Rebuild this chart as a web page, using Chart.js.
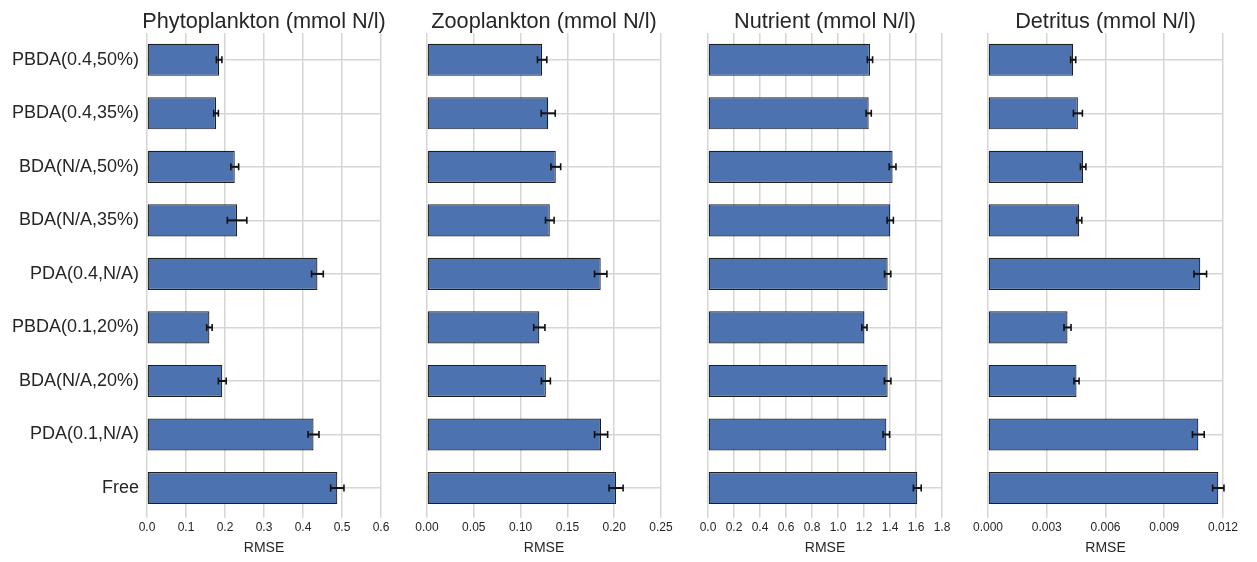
<!DOCTYPE html>
<html>
<head>
<meta charset="utf-8">
<title>RMSE by assimilation scheme</title>
<script src="https://cdn.jsdelivr.net/npm/chart.js@4.4.1/dist/chart.umd.min.js"></script>
<style>
  html, body { margin: 0; padding: 0; background: #ffffff; }
  #wrap { position: relative; width: 1257px; height: 562px; overflow: hidden; }
  .panel { position: absolute; top: 0; height: 562px; }
</style>
</head>
<body>
<div id="wrap">
  <div class="panel" id="p0" style="left:0px;width:401px"><canvas id="c0"></canvas></div>
  <div class="panel" id="p1" style="left:397px;width:285px"><canvas id="c1"></canvas></div>
  <div class="panel" id="p2" style="left:678px;width:285px"><canvas id="c2"></canvas></div>
  <div class="panel" id="p3" style="left:958px;width:290px"><canvas id="c3"></canvas></div>
</div>
<script>
/* ---------------------------------------------------------------------------
   Data
   --------------------------------------------------------------------------- */
const categories = ['PBDA(0.4,50%)', 'PBDA(0.4,35%)', 'BDA(N/A,50%)', 'BDA(N/A,35%)',
                    'PDA(0.4,N/A)', 'PBDA(0.1,20%)', 'BDA(N/A,20%)', 'PDA(0.1,N/A)', 'Free'];

const phytoRmse = [0.185, 0.177, 0.225, 0.231, 0.437, 0.160, 0.193, 0.427, 0.488];
const phytoErr  = [0.007, 0.006, 0.010, 0.025, 0.015, 0.007, 0.010, 0.014, 0.017];

const zooRmse = [0.123, 0.1295, 0.1376, 0.1312, 0.1856, 0.120, 0.127, 0.186, 0.202];
const zooErr  = [0.005, 0.0075, 0.0052, 0.0046, 0.0066, 0.006, 0.0048, 0.007, 0.0075];

const nutRmse = [1.246, 1.236, 1.420, 1.402, 1.382, 1.203, 1.382, 1.372, 1.610];
const nutErr  = [0.020, 0.020, 0.026, 0.024, 0.024, 0.020, 0.025, 0.025, 0.030];

const detRmse = [0.00435, 0.00459, 0.00486, 0.00466, 0.01084, 0.00406, 0.00452, 0.01074, 0.01176];
const detErr  = [0.00013, 0.00023, 0.00014, 0.00013, 0.00032, 0.00018, 0.00013, 0.00030, 0.00029];

const phytoTicks = [0, 0.1, 0.2, 0.3, 0.4, 0.5, 0.6];
const zooTicks   = [0, 0.05, 0.10, 0.15, 0.20, 0.25];
const nutTicks   = [0, 0.2, 0.4, 0.6, 0.8, 1.0, 1.2, 1.4, 1.6, 1.8];
const detTicks   = [0, 0.003, 0.006, 0.009, 0.012];

const titles = ['Phytoplankton (mmol N/l)', 'Zooplankton (mmol N/l)',
                'Nutrient (mmol N/l)', 'Detritus (mmol N/l)'];

/* ---------------------------------------------------------------------------
   Style
   --------------------------------------------------------------------------- */
const FONT      = "'Liberation Sans', Arial, sans-serif";
const TEXT      = '#262626';
const GRID      = '#d6d6d6';
const BAR_FILL  = '#4c72b0';
const BAR_EDGE  = '#1f1f1f';

Chart.defaults.font.family = FONT;
Chart.defaults.color = TEXT;

/* error bars drawn from the dataset's own err array through the x scale */
const errorBars = {
  id: 'errorBars',
  afterDatasetsDraw(chart) {
    const ctx = chart.ctx;
    const xs = chart.scales.x;
    chart.data.datasets.forEach((ds, di) => {
      const meta = chart.getDatasetMeta(di);
      meta.data.forEach((bar, i) => {
        const v = ds.data[i], e = ds.err[i];
        const x0 = xs.getPixelForValue(v - e);
        const x1 = xs.getPixelForValue(v + e);
        const y = bar.y;
        ctx.save();
        ctx.strokeStyle = '#111111';
        ctx.lineWidth = 2;
        ctx.beginPath();
        ctx.moveTo(x0, y); ctx.lineTo(x1, y);
        ctx.stroke();
        ctx.lineWidth = 1.6;
        ctx.beginPath();
        ctx.moveTo(x0, y - 3.5); ctx.lineTo(x0, y + 3.5);
        ctx.moveTo(x1, y - 3.5); ctx.lineTo(x1, y + 3.5);
        ctx.stroke();
        ctx.restore();
      });
    });
  }
};

/* panel title centred over the plot area (not the whole canvas) */
const panelTitle = {
  id: 'panelTitle',
  afterDraw(chart, args, opts) {
    const ctx = chart.ctx;
    const a = chart.chartArea;
    ctx.save();
    ctx.font = `21.7px ${FONT}`;
    ctx.fillStyle = TEXT;
    ctx.textAlign = 'center';
    ctx.textBaseline = 'alphabetic';
    ctx.fillText(opts.text, (a.left + a.right) / 2, 28);
    ctx.restore();
  }
};

function makePanel(canvasId, title, values, errs, ticks, showLabels, padLeft, padRight, dec) {
  return new Chart(document.getElementById(canvasId), {
    type: 'bar',
    data: {
      labels: categories,
      datasets: [{
        data: values,
        err: errs,
        backgroundColor: BAR_FILL,
        borderColor: BAR_EDGE,
        borderWidth: 1.2,
        borderSkipped: false,
        barPercentage: 0.6,
        categoryPercentage: 1.0,
      }]
    },
    options: {
      indexAxis: 'y',
      responsive: true,
      maintainAspectRatio: false,
      animation: false,
      layout: { padding: { left: padLeft, right: padRight, top: 33, bottom: 5 } },
      plugins: {
        legend: { display: false },
        tooltip: { enabled: false },
        title: { display: false },
        panelTitle: { text: title }
      },
      scales: {
        x: {
          min: ticks[0],
          max: ticks[ticks.length - 1],
          afterBuildTicks: axis => { axis.ticks = ticks.map(v => ({ value: v })); },
          grid: { color: GRID, lineWidth: 1.5, tickLength: 3, drawTicks: true },
          border: { display: false },
          ticks: {
            color: TEXT,
            font: { size: 12 },
            padding: 3,
            maxRotation: 0,
            callback: v => Number(v).toFixed(dec)
          },
          title: {
            display: true,
            text: 'RMSE',
            color: TEXT,
            font: { size: 14 },
            padding: { top: 2, bottom: 0 }
          }
        },
        y: {
          grid: { color: GRID, lineWidth: 1.5, offset: false, drawTicks: false },
          border: { display: false },
          ticks: {
            display: showLabels,
            color: TEXT,
            font: { size: 18 },
            padding: 8
          },
          afterFit: axis => { axis.width = showLabels ? 147 : 0; }
        }
      }
    },
    plugins: [errorBars, panelTitle]
  });
}

makePanel('c0', titles[0], phytoRmse, phytoErr, phytoTicks, true, 0, 20, 1);
makePanel('c1', titles[1], zooRmse, zooErr, zooTicks, false, 30, 21, 2);
makePanel('c2', titles[2], nutRmse, nutErr, nutTicks, false, 30, 21, 1);
makePanel('c3', titles[3], detRmse, detErr, detTicks, false, 30, 25, 3);
</script>
</body>
</html>
